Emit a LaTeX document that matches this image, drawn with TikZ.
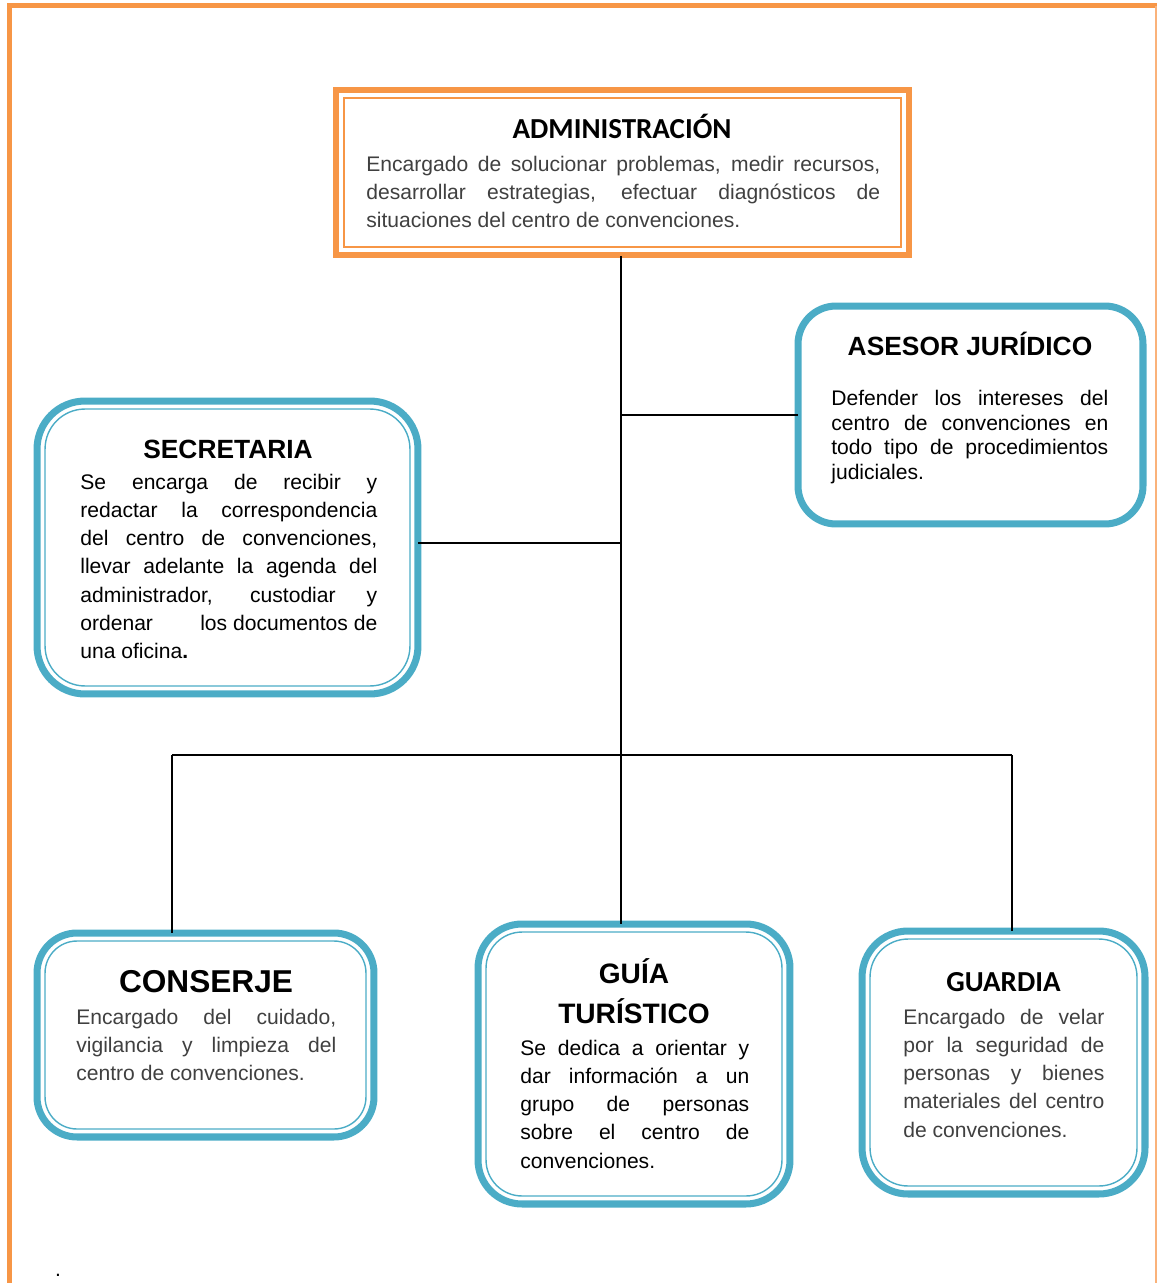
\documentclass[tikz,border=0pt]{standalone}
\usepackage{fontspec}
\setmainfont{Liberation Sans}
\newfontfamily\calibri{Carlito}
\definecolor{borange}{HTML}{F79646}
\definecolor{lorange}{HTML}{FAB27A}
\definecolor{tealc}{HTML}{4BACC6}
\definecolor{greytext}{HTML}{404040}
\tolerance=10000
\hbadness=10000
\tikzset{
  tealbox/.style={draw=tealc, line width=4pt, rounded corners=#1, inner sep=0pt, outer sep=0pt},
  innerteal/.style={draw=tealc, line width=0.8pt, rounded corners=#1},
  conn/.style={draw=black, line width=0.9pt},
  ttl/.style={inner sep=0pt, anchor=base, font=\fontsize{15}{18}\selectfont\bfseries},
  bodytext/.style={inner sep=0pt, anchor=north west, align=justify, font=\fontsize{12}{16}\selectfont},
}
\begin{document}
\begin{tikzpicture}[x=0.02cm,y=-0.02cm]
\useasboundingbox (0,0) rectangle (1157,1283);
% page border
\draw[borange, line width=2.8pt] (9.8,1283) -- (9.8,5.8) -- (1157,5.8);
\draw[lorange, line width=0.8pt] (1156,5.8) -- (1156,1283);

% ADMINISTRACION
\node[draw=borange, line width=3.5pt, inner sep=0pt, outer sep=0pt, minimum width=11.46cm, minimum height=3.3cm] (admin) at (622.5,172.5) {};
\draw[borange, line width=0.9pt] ([shift={(8,8)}]admin.north west) rectangle ([shift={(-8,-8)}]admin.south east);
\node[inner sep=0pt, anchor=base, font=\calibri\fontsize{16.5}{19}\selectfont\bfseries] (admint) at (622,138.5) {ADMINISTRACIÓN};
\node[bodytext, text width=10.28cm, text=greytext] (adminb) at (366,156) {Encargado de solucionar problemas, medir recursos,\linebreak desarrollar estrategias, efectuar diagnósticos de\linebreak situaciones del centro de convenciones.};

% ASESOR JURIDICO
\node[tealbox=0.76cm, minimum width=6.9cm, minimum height=4.36cm] (asesor) at (970.5,415) {};
\node[ttl] (asesort) at (970,355.5) {ASESOR JURÍDICO};
\node[bodytext, text width=5.54cm, font=\fontsize{12}{14}\selectfont] (asesorb) at (831,390) {Defender los intereses del\linebreak centro de convenciones en\linebreak todo tipo de procedimientos\linebreak judiciales.};

% SECRETARIA
\node[tealbox=0.96cm, minimum width=7.62cm, minimum height=5.86cm] (secre) at (227.5,547.5) {};
\draw[innerteal=0.8cm] ([shift={(8,8)}]secre.north west) rectangle ([shift={(-8,-8)}]secre.south east);
\node[ttl] (secret) at (228,458.5) {SECRETARIA};
\node[bodytext, text width=5.94cm] (secreb) at (80,474) {Se encarga de recibir y\linebreak redactar la correspondencia\linebreak del centro de convenciones,\linebreak llevar adelante la agenda del\linebreak administrador, custodiar y\linebreak ordenar\hfill los documentos de\linebreak una oficina\textbf{.}};

% CONSERJE
\node[tealbox=0.8cm, minimum width=6.74cm, minimum height=4.08cm] (conserje) at (205.5,1035) {};
\draw[innerteal=0.64cm] ([shift={(8,8)}]conserje.north west) rectangle ([shift={(-8,-8)}]conserje.south east);
\node[ttl, font=\fontsize{18}{21}\selectfont\bfseries] (conserjet) at (206,992) {CONSERJE};
\node[bodytext, text width=5.2cm, text=greytext] (conserjeb) at (76,1009) {Encargado del cuidado,\linebreak vigilancia y limpieza del\linebreak centro de convenciones.};

% GUIA TURISTICO
\node[tealbox=0.88cm, minimum width=6.24cm, minimum height=5.6cm] (guia) at (634,1064) {};
\draw[innerteal=0.72cm] ([shift={(8,8)}]guia.north west) rectangle ([shift={(-8,-8)}]guia.south east);
\node[inner sep=0pt, anchor=north, align=center, font=\fontsize{16}{22.7}\selectfont\bfseries] (guiat) at (634,958) {GUÍA\\TURÍSTICO};
\node[bodytext, text width=4.58cm] (guiab) at (520,1040) {Se dedica a orientar y\linebreak dar información a un\linebreak grupo de personas\linebreak sobre el centro de\linebreak convenciones.};

% GUARDIA
\node[tealbox=0.92cm, minimum width=5.66cm, minimum height=5.26cm] (guardia) at (1003.5,1062.5) {};
\draw[innerteal=0.76cm] ([shift={(8,8)}]guardia.north west) rectangle ([shift={(-8,-8)}]guardia.south east);
\node[inner sep=0pt, anchor=base, font=\calibri\fontsize{16.5}{19}\selectfont\bfseries] (guardiat) at (1003.5,991.5) {GUARDIA};
\node[bodytext, text width=4.02cm, text=greytext] (guardiab) at (903,1009) {Encargado de velar\linebreak por la seguridad de\linebreak personas y bienes\linebreak materiales del centro\linebreak de convenciones.};

% connectors
\coordinate (trunk) at (621,256);
\draw[conn] (trunk) -- (trunk |- guia.north);
\draw[conn] (asesor.west) -- (asesor.west -| trunk);
\draw[conn] ([shift={(0,-4.5)}]secre.east) -- ([shift={(0,-4.5)}]secre.east -| trunk);
\coordinate (busL) at (172,755);
\coordinate (busR) at (1012,755);
\draw[conn] (busL) -- (busR);
\draw[conn] (busL) -- (busL |- conserje.north);
\draw[conn] (busR) -- (busR |- guardia.north);

% stray dot
\node[inner sep=0pt, anchor=base, font=\fontsize{12}{14}\selectfont] (dot) at (58,1276) {.};
\end{tikzpicture}
\end{document}
